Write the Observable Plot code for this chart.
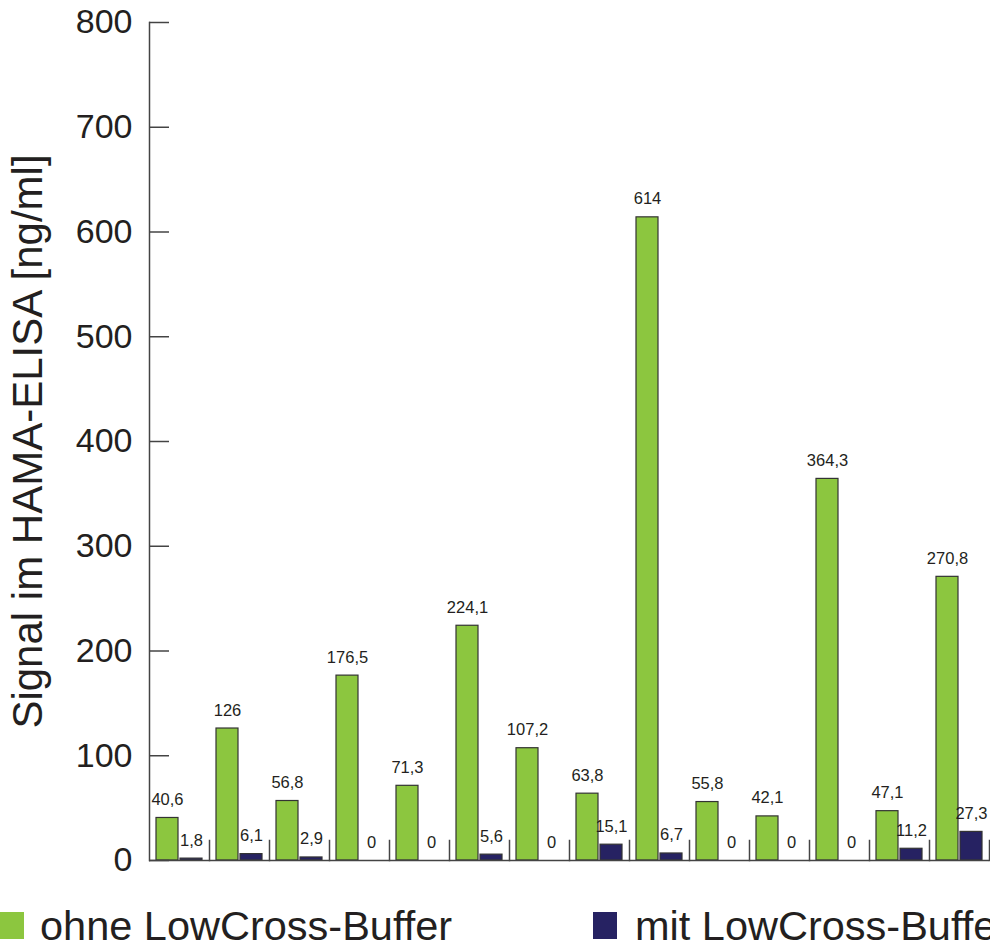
<!DOCTYPE html>
<html>
<head>
<meta charset="utf-8">
<script src="https://cdn.jsdelivr.net/npm/d3@7"></script>
<script src="https://cdn.jsdelivr.net/npm/@observablehq/plot@0.6"></script>
<style>
  html, body { margin: 0; padding: 0; background: #fff; }
  #wrap { width: 990px; font-family: "Liberation Sans", Arial, sans-serif; color: #231f20; }
  #legend { position: relative; width: 990px; height: 66px; overflow: hidden; }
  .sw { position: absolute; top: 32px; width: 24px; height: 27px; }
  .lt { position: absolute; top: 27.5px; font-size: 41.5px; line-height: 36px; white-space: nowrap; }
</style>
</head>
<body>
<div id="wrap">
  <div id="chart"></div>
  <div id="legend"></div>
</div>
<script>
const groups = ["P1","P2","P3","P4","P5","P6","P7","P8","P9","P10","P11","P12","P13","P14"];
const seriesNames = ["ohne LowCross-Buffer", "mit LowCross-Buffer"];
const ohne = [40.6, 126, 56.8, 176.5, 71.3, 224.1, 107.2, 63.8, 614, 55.8, 42.1, 364.3, 47.1, 270.8];
const mit = [1.8, 6.1, 2.9, 0, 0, 5.6, 0, 15.1, 6.7, 0, 0, 0, 11.2, 27.3];
const yTicks = [0, 100, 200, 300, 400, 500, 600, 700, 800];
const colors = ["#8cc63f", "#262262"];
const yLabel = "Signal im HAMA-ELISA [ng/ml]";

const data = [];
groups.forEach((g, i) => {
  data.push({group: g, series: seriesNames[0], value: ohne[i]});
  data.push({group: g, series: seriesNames[1], value: mit[i]});
});
const fmt = v => String(v).replace(".", ",");

const chart = Plot.plot({
  width: 990,
  height: 880,
  marginTop: 22,
  marginBottom: 20,
  marginLeft: 149,
  marginRight: 1,
  style: {fontFamily: "Liberation Sans, Arial, sans-serif", color: "#231f20", background: "white", overflow: "visible"},
  fx: {domain: groups, padding: 0, axis: null},
  x: {domain: seriesNames, paddingInner: 2/24, paddingOuter: 7/24, axis: null},
  y: {domain: [0, 800], axis: null},
  color: {domain: seriesNames, range: colors},
  marks: [
    Plot.barY(data, {fx: "group", x: "series", y: "value", fill: "series", stroke: "#333", strokeWidth: 1.2}),
    Plot.text(data, {fx: "group", x: "series", y: "value", text: d => fmt(d.value), dy: -13, lineAnchor: "bottom", fontSize: 16.5, fill: "#231f20"}),
    Plot.ruleY([0], {stroke: "#444", strokeWidth: 1.5}),
    Plot.frame({anchor: "right", insetTop: 818, stroke: "#444", strokeWidth: 1.5}),
    Plot.frame({anchor: "left", fx: () => groups[0], stroke: "#444", strokeWidth: 1.5}),
    Plot.axisY({ticks: yTicks, tickFormat: d => d, tickSize: -20, tickPadding: 37, fontSize: 34, label: null, stroke: "#444", strokeWidth: 1.5}),
    Plot.axisY({ticks: [], label: yLabel, labelAnchor: "center", labelArrow: "none", labelOffset: 137, fontSize: 42})
  ]
});
document.getElementById("chart").appendChild(chart);

const legend = document.getElementById("legend");
const items = [{left: 0, tleft: 40}, {left: 593, tleft: 635}];
seriesNames.forEach((name, i) => {
  const sw = document.createElement("div");
  sw.className = "sw";
  sw.style.left = items[i].left + "px";
  sw.style.background = colors[i];
  legend.appendChild(sw);
  const t = document.createElement("div");
  t.className = "lt";
  t.style.left = items[i].tleft + "px";
  t.textContent = name;
  legend.appendChild(t);
});
</script>
</body>
</html>
